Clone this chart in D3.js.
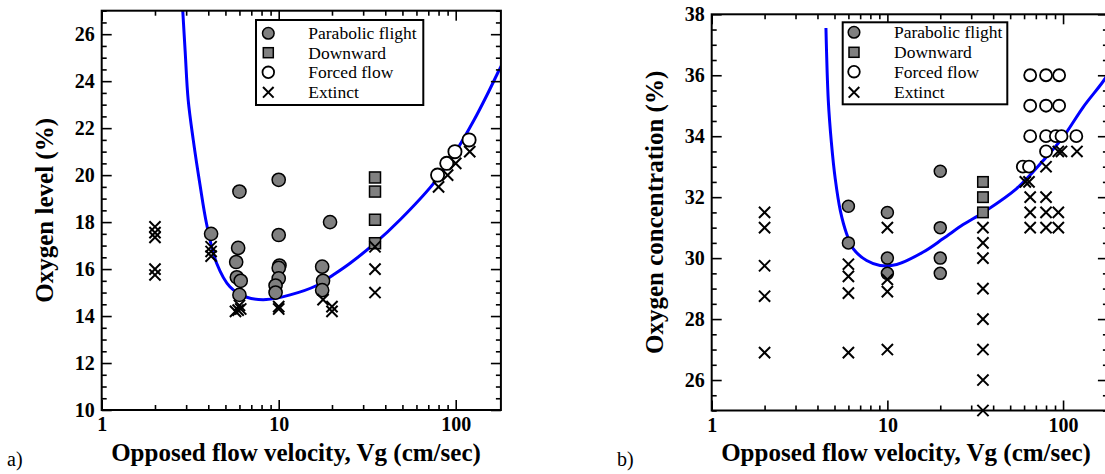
<!DOCTYPE html>
<html>
<head>
<meta charset="utf-8">
<script src="https://cdn.jsdelivr.net/npm/d3@7/dist/d3.min.js"></script>
<style>
  html, body { margin: 0; padding: 0; background: #fff; }
  svg { display: block; }
  text { font-family: "Liberation Serif", "Times New Roman", Times, serif; fill: #000; }
</style>
</head>
<body>
<svg id="chart" width="1105" height="474"></svg>
<script>
// ---------- Shared tick labels ----------
const xTickLabels = [1, 10, 100];
const yTickLabelsA = [10, 12, 14, 16, 18, 20, 22, 24, 26];
const yTickLabelsB = [26, 28, 30, 32, 34, 36, 38];
const legendLabels = ["Parabolic flight", "Downward", "Forced flow", "Extinct"];

// ---------- Panel a) data : [velocity, oxygen level] ----------
const paraA = [[4.15,17.5],[6.0,19.3],[5.9,16.9],[5.75,16.3],[5.8,15.65],[6.1,15.5],[6.0,14.9],
  [10,19.8],[10,17.45],[10.1,16.15],[10,16.05],[10,15.6],[9.6,15.3],[9.6,15.0],
  [19.5,18.0],[17.6,16.1],[17.8,15.5],[17.6,15.1]];
const downA = [[35,19.9],[35,19.3],[35,18.1],[35,17.1]];
const forcedA = [[79,20.0],[89,20.5],[99,21.0],[119,21.5]];
const extinctA = [[2,17.8],[2,17.55],[2,17.35],[2,16.0],[2,15.75],
  [4.15,16.95],[4.15,16.75],[4.15,16.55],
  [5.7,14.2],[5.9,14.25],[6.1,14.3],[6.0,14.45],
  [10,14.3],[10,14.4],
  [17.8,14.7],[20,14.4],[20,14.2],
  [35,16.95],[35,16.0],[35,15.0],
  [80,19.5],[90,20.0],[100,20.5],[120,21.0]];
const fitA = [[2.87,27.0],[2.96,25.3],[3.08,23.2],[3.29,21.5],[3.59,19.6],[3.92,17.9],[4.46,16.25],
  [5.3,15.25],[6.6,14.8],[8.5,14.7],[11.6,14.9],[16.4,15.3],[20.3,15.75],[25.3,16.25],[35,17.1],
  [48.5,18.1],[75,19.65],[101,21.05],[126,22.3],[150,23.4],[174,24.4],[185,24.8]];

// ---------- Panel b) data : [velocity, oxygen concentration] ----------
const paraB = [[6,31.7],[6,30.5],[10,31.5],[10,30.0],[10,29.5],[20,32.85],[20,31.0],[20,30.0],[20,29.5]];
const downB = [[35,32.5],[35,32.0],[35,31.5]];
const forcedB = [[65,36],[80,36],[95,36],[65,35],[80,35],[95,35],
  [65,34],[80,34],[91,34],[98,34],[119,34],[80,33.5],[59,33],[64,33]];
const extinctB = [[2,31.5],[2,31.0],[2,29.75],[2,28.75],[2,26.9],
  [6,29.8],[6,29.4],[6,28.85],[6,26.9],
  [10,31.0],[10,29.3],[10,28.9],[10,27.0],
  [35,31],[35,30.5],[35,30],[35,29],[35,28],[35,27],[35,26],[35,25],
  [80,33.0],[94,33.5],[98,33.5],[120,33.5],[61,32.5],[64,32.5],
  [65,32.0],[80,32.0],[65,31.5],[80,31.5],[94,31.5],[65,31.0],[80,31.0],[94,31.0]];
const fitB = [[4.47,37.55],[4.61,35.17],[4.8,33.8],[5.05,32.6],[5.4,31.55],[5.86,30.8],[6.4,30.3],
  [7.62,29.92],[9.08,29.76],[11.3,29.79],[16.0,30.2],[20.8,30.64],[27.0,31.1],[35.2,31.5],
  [54.4,32.28],[77.1,33.2],[100,33.97],[130,34.95],[173,35.88],[185,36.2]];

const svg = d3.select("#chart");
const GRAY = "#808080";

function drawMarker(sel, type, s) {
  if (type === "circle") {
    sel.append("circle").attr("r", s.r).attr("fill", GRAY).attr("stroke", "#000").attr("stroke-width", 1.5);
  } else if (type === "square") {
    sel.append("rect").attr("x", -s.sq/2).attr("y", -s.sq/2).attr("width", s.sq).attr("height", s.sq)
      .attr("fill", GRAY).attr("stroke", "#000").attr("stroke-width", 1.5);
  } else if (type === "open") {
    sel.append("circle").attr("r", s.r).attr("fill", "#fff").attr("stroke", "#000").attr("stroke-width", 1.8);
  } else {
    const h = s.xs;
    sel.append("path").attr("d", `M${-h},${-h}L${h},${h}M${-h},${h}L${h},${-h}`)
      .attr("stroke", "#000").attr("stroke-width", 2).attr("fill", "none");
  }
}

function panel(cfg) {
  const g = svg.append("g");
  const x = d3.scaleLog().domain([1, 180]).range([cfg.x0, cfg.x1]);
  const y = d3.scaleLinear().domain(cfg.yDom).range([cfg.y0, cfg.y1]);

  const clipId = "clip" + cfg.id;
  svg.append("defs").append("clipPath").attr("id", clipId)
    .append("rect").attr("x", cfg.x0).attr("y", cfg.y1).attr("width", cfg.x1 - cfg.x0).attr("height", cfg.y0 - cfg.y1);

  // fit curve
  g.append("path").datum(cfg.fit)
    .attr("clip-path", `url(#${clipId})`)
    .attr("fill", "none").attr("stroke", "#0000ff").attr("stroke-width", 3)
    .attr("d", d3.line().x(d => x(d[0])).y(d => y(d[1])).curve(d3.curveCatmullRom));

  // markers
  const series = [["circle", cfg.para], ["square", cfg.down], ["open", cfg.forced], ["cross", cfg.extinct]];
  series.forEach(([type, data]) => {
    data.forEach(d => {
      const m = g.append("g").attr("transform", `translate(${x(d[0])},${y(d[1])})`);
      drawMarker(m, type, cfg.sym);
    });
  });

  // axes
  const font = a => a.attr("font-family", '"Liberation Serif","Times New Roman",serif')
                     .attr("font-size", 20).attr("font-weight", "bold");
  const minorX = x.ticks().filter(v => xTickLabels.indexOf(v) < 0);
  const minorY = d3.range(cfg.yDom[0], cfg.yDom[1] + 0.001, 0.5).filter(v => cfg.yLabels.indexOf(v) < 0);

  const gb = g.append("g").attr("transform", `translate(0,${cfg.y0})`)
    .call(d3.axisBottom(x).tickValues(xTickLabels).tickSize(-10).tickSizeOuter(0).tickPadding(7).tickFormat(d3.format("d")));
  font(gb);
  g.append("g").attr("transform", `translate(0,${cfg.y0})`)
    .call(d3.axisBottom(x).tickValues(minorX).tickSize(-5).tickSizeOuter(0).tickFormat(""));
  g.append("g").attr("transform", `translate(0,${cfg.y1})`)
    .call(d3.axisTop(x).tickValues(xTickLabels).tickSize(-10).tickSizeOuter(0).tickFormat(""));
  g.append("g").attr("transform", `translate(0,${cfg.y1})`)
    .call(d3.axisTop(x).tickValues(minorX).tickSize(-5).tickSizeOuter(0).tickFormat(""));

  const gl = g.append("g").attr("transform", `translate(${cfg.x0},0)`)
    .call(d3.axisLeft(y).tickValues(cfg.yLabels).tickSize(-10).tickSizeOuter(0).tickPadding(7).tickFormat(d3.format("d")));
  font(gl);
  g.append("g").attr("transform", `translate(${cfg.x0},0)`)
    .call(d3.axisLeft(y).tickValues(minorY).tickSize(-5).tickSizeOuter(0).tickFormat(""));
  g.append("g").attr("transform", `translate(${cfg.x1},0)`)
    .call(d3.axisRight(y).tickValues(cfg.yLabels).tickSize(-10).tickSizeOuter(0).tickFormat(""));
  g.append("g").attr("transform", `translate(${cfg.x1},0)`)
    .call(d3.axisRight(y).tickValues(minorY).tickSize(-5).tickSizeOuter(0).tickFormat(""));

  g.selectAll(".domain").remove();
  g.selectAll(".tick line").attr("stroke", "#000").attr("stroke-width", 1.6);
  g.selectAll(".tick text").attr("fill", "#000");

  // frame
  g.append("rect").attr("x", cfg.x0).attr("y", cfg.y1).attr("width", cfg.x1 - cfg.x0).attr("height", cfg.y0 - cfg.y1)
    .attr("fill", "none").attr("stroke", "#000").attr("stroke-width", 2);

  // legend
  const L = cfg.legend;
  g.append("rect").attr("x", L.x).attr("y", L.y).attr("width", L.w).attr("height", L.h)
    .attr("fill", "#fff").attr("stroke", "#000").attr("stroke-width", 2);
  const types = ["circle", "square", "open", "cross"];
  legendLabels.forEach((lab, i) => {
    const cy = L.rows[i];
    const m = g.append("g").attr("transform", `translate(${L.sx},${cy})`);
    drawMarker(m, types[i], {r: 5.8, sq: 10, xs: 5.3});
    g.append("text").attr("x", L.tx).attr("y", cy).attr("dy", "0.34em")
      .attr("font-size", 17.5).text(lab);
  });

  // axis titles
  g.append("text").attr("x", cfg.xTitleX).attr("y", 461).attr("text-anchor", "middle")
    .attr("font-size", 25).attr("font-weight", "bold").text("Opposed flow velocity, Vg (cm/sec)");
  g.append("text").attr("transform", `translate(${cfg.yTitleX},${(cfg.y0 + cfg.y1) / 2}) rotate(-90)`)
    .attr("text-anchor", "middle").attr("font-size", 25).attr("font-weight", "bold").text(cfg.yTitle);
  g.append("text").attr("x", cfg.tagX).attr("y", 466).attr("font-size", 20).text(cfg.tag);
}

panel({
  id: "a", x0: 101.7, x1: 500.9, y0: 410, y1: 10.7, yDom: [10, 27], yLabels: yTickLabelsA,
  para: paraA, down: downA, forced: forcedA, extinct: extinctA, fit: fitA,
  sym: {r: 6.6, sq: 11, xs: 5.6},
  legend: {x: 256, y: 20, w: 167.3, h: 85, sx: 268.3, tx: 308.3, rows: [33.3, 52.7, 72.3, 92.3]},
  xTitleX: 296, yTitleX: 53, yTitle: "Oxygen level (%)", tagX: 7, tag: "a)"
});

panel({
  id: "b", x0: 711.7, x1: 1107.9, y0: 410.5, y1: 14.3, yDom: [25, 38], yLabels: yTickLabelsB,
  para: paraB, down: downB, forced: forcedB, extinct: extinctB, fit: fitB,
  sym: {r: 6.0, sq: 10.5, xs: 5.6},
  legend: {x: 842.7, y: 22.3, w: 164.6, h: 82, sx: 854, tx: 894, rows: [32.3, 52.3, 71.7, 92.3]},
  xTitleX: 906, yTitleX: 663, yTitle: "Oxygen concentration (%)", tagX: 617, tag: "b)"
});
</script>
</body>
</html>
